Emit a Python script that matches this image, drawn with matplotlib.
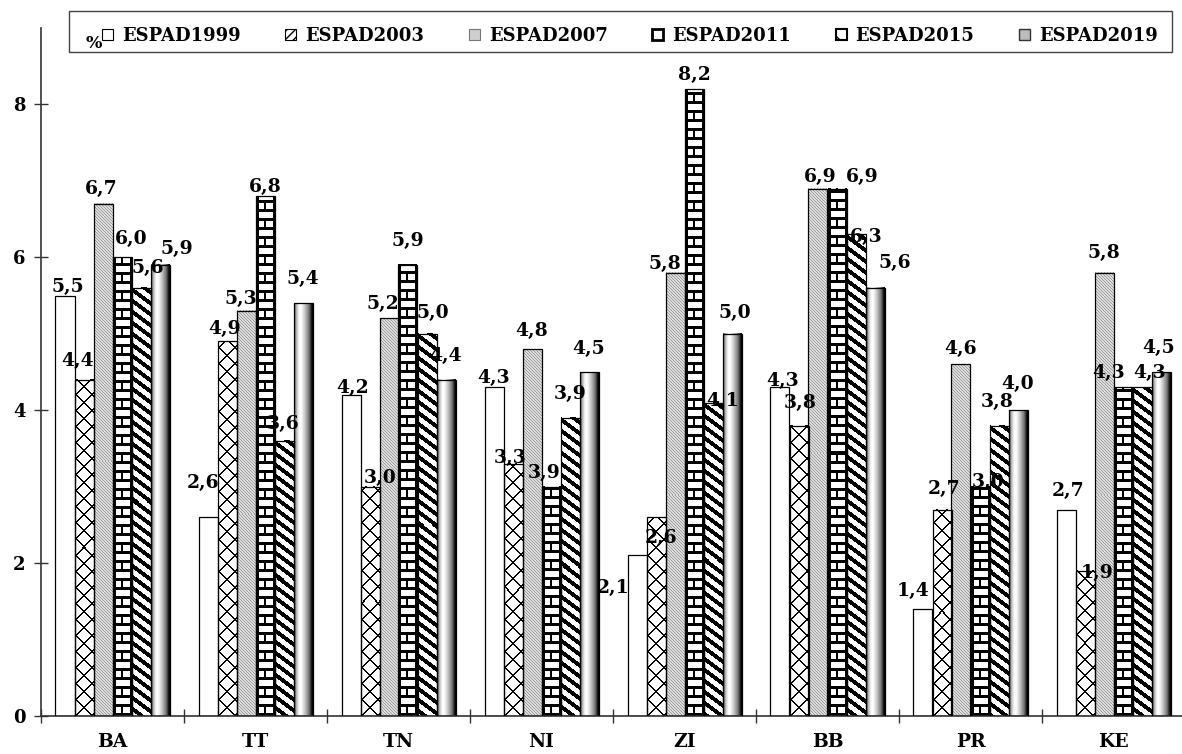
import numpy as np
import matplotlib
matplotlib.use('Agg')
import matplotlib.pyplot as plt
import matplotlib.patches as mpatches
from matplotlib.ticker import FixedLocator

# 데이터
categories = ['BA', 'TT', 'TN', 'NI', 'ZI', 'BB', 'PR', 'KE']
series_names = ['ESPAD1999', 'ESPAD2003', 'ESPAD2007', 'ESPAD2011', 'ESPAD2015', 'ESPAD2019']
espad1999 = [5.5, 2.6, 4.2, 4.3, 2.1, 4.3, 1.4, 2.7]
espad2003 = [4.4, 4.9, 3.0, 3.3, 2.6, 3.8, 2.7, 1.9]
espad2007 = [6.7, 5.3, 5.2, 4.8, 5.8, 6.9, 4.6, 5.8]
espad2011 = [6.0, 6.8, 5.9, 3.0, 8.2, 6.9, 3.0, 4.3]
espad2015 = [5.6, 3.6, 5.0, 3.9, 4.1, 6.3, 3.8, 4.3]
espad2019 = [5.9, 5.4, 4.4, 4.5, 5.0, 5.6, 4.0, 4.5]
# 원본 그림에서 막대 높이와 다르게 적힌 레이블
label_text_override = {(3, 3): '3,9'}
y_ticks = [0, 2, 4, 6, 8]

FONT = 'DejaVu Serif'

# 레이블 위치 보정 (픽셀: 가로 이동, 막대 위 간격) - 원본에서 손으로 옮긴 레이블들
label_shift = {
    (0, 0): (3, 0), (0, 1): (-6, 10), (0, 2): (-2, 6), (0, 3): (9, 9), (0, 4): (7, 11), (0, 5): (17, 7),
    (1, 0): (-5, 25), (1, 1): (-2, 3), (1, 2): (-5, 3), (1, 3): (0, 0), (1, 4): (-1, 8), (1, 5): (0, 15),
    (2, 0): (2, -2), (2, 1): (10, 0), (2, 2): (-6, 6), (2, 3): (0, 15), (2, 4): (6, 12), (2, 5): (0, 15),
    (3, 0): (0, 0), (3, 1): (-3, -3), (3, 2): (0, 9), (3, 3): (-7, 5), (3, 4): (0, 15), (3, 5): (0, 14),
    (4, 0): (-24, -42), (4, 1): (5, -30), (4, 2): (-10, 0), (4, 3): (0, 5), (4, 4): (10, -7), (4, 5): (3, 12),
    (5, 0): (3, -3), (5, 1): (1, 14), (5, 2): (2, 3), (5, 3): (25, 3), (5, 4): (10, -12), (5, 5): (20, 16),
    (6, 0): (-10, 9), (6, 1): (2, 12), (6, 2): (0, 6), (6, 3): (8, -4), (6, 4): (-2, 15), (6, 5): (0, 17),
    (7, 0): (2, 10), (7, 1): (12, -11), (7, 2): (0, 11), (7, 3): (-14, 5), (7, 4): (8, 5), (7, 5): (-2, 15),
}


def texture(kind, W, H):
    """막대 하나를 채울 무늬 이미지 (0=검정, 1=흰색)"""
    rows = np.arange(H)[:, None]
    cols = np.arange(W)[None, :]
    yb = (H - 1 - rows) + np.zeros_like(cols)
    cc = cols + np.zeros_like(rows)
    img = np.ones((H, W))
    if kind == 1:  # 지그재그 격자
        line = ((cc + yb) % 16 < 2) | ((cc - yb) % 16 < 2)
        img[line] = 0.0
    elif kind == 2:  # 회색 가는 빗금
        img[:] = 0.86
        img[(rows - cc) % 3 == 0] = 0.62
    elif kind == 3:  # 벽돌
        k = yb // 9
        mortar = (yb % 9) < 3
        img[mortar] = 0.0
        img[cc < 3] = 0.0
        img[cc >= W - 2] = 0.0
        joint = (k % 2 == 0) & (cc >= W // 2 - 1) & (cc <= W // 2)
        img[joint] = 0.0
    elif kind == 4:  # 굵은 사선
        stripe = ((rows - 0.75 * cc) % 11) < 5
        img[stripe] = 0.0
    elif kind == 5:  # 원통형 그라데이션
        prof = np.array([0.35, 0.55, 0.7, 0.82, 0.92, 0.98, 1.0, 0.97, 0.92,
                         0.86, 0.8, 0.73, 0.66, 0.58, 0.5, 0.4, 0.25, 0.1, 0.02])
        xs = np.linspace(0, 1, W)
        p = np.interp(xs, np.linspace(0, 1, len(prof)), prof)
        img[:] = p[None, :]
    return img


def main():
    data = [espad1999, espad2003, espad2007, espad2011, espad2015, espad2019]
    n = len(categories)
    x = np.arange(n)
    w = 19.0 / 143.0

    fig = plt.figure(figsize=(11.82, 7.54), dpi=100)
    ax = fig.add_axes([41 / 1182, 38 / 754, 1144 / 1182, 688 / 754])
    ax.set_xlim(-0.5, n - 0.5)
    ax.set_ylim(0, 9)

    for k, vals in enumerate(data):
        bars = ax.bar(x + (k - 2.5) * w, vals, width=w, facecolor='none',
                      edgecolor='black', linewidth=0.9, zorder=3)
        for i, patch in enumerate(bars):
            x0 = patch.get_x()
            x1 = x0 + patch.get_width()
            h = patch.get_height()
            (px0, py0), (px1, py1) = ax.transData.transform([(x0, 0), (x1, h)])
            W = max(1, int(round(px1 - px0)))
            H = max(1, int(round(py1 - py0)))
            if k > 0:
                ax.imshow(texture(k, W, H), cmap='gray', vmin=0, vmax=1,
                          extent=[x0, x1, 0, h], aspect='auto',
                          interpolation='nearest', zorder=2)
            txt = label_text_override.get((i, k), f'{vals[i]:.1f}'.replace('.', ','))
            dx, gap = label_shift.get((i, k), (0, 8))
            ax.annotate(txt, (x0 + w / 2, h), xytext=(dx * 0.72, gap * 0.72),
                        textcoords='offset points', ha='center', va='bottom',
                        fontsize=13.5, fontweight='bold', family=FONT, zorder=5)

    ax.set_xlim(-0.5, n - 0.5)
    ax.set_ylim(0, 9)

    for s in ['top', 'right']:
        ax.spines[s].set_visible(False)
    for s in ['left', 'bottom']:
        ax.spines[s].set_color('#333333')
        ax.spines[s].set_linewidth(1.2)

    ax.set_yticks(y_ticks)
    ax.set_yticklabels([str(t) for t in y_ticks], fontsize=13,
                       fontweight='bold', family=FONT)
    ax.tick_params(axis='y', direction='inout', length=10, width=1.0,
                   color='#333333', pad=6)

    ax.set_xticks(x)
    ax.set_xticklabels(categories, fontsize=13.5, fontweight='bold', family=FONT)
    ax.tick_params(axis='x', which='major', length=0, pad=12)
    ax.xaxis.set_minor_locator(FixedLocator(np.arange(n + 1) - 0.5))
    ax.tick_params(axis='x', which='minor', direction='inout', length=10,
                   width=1.0, color='#333333')

    # 범례
    handles = [
        mpatches.Patch(facecolor='white', edgecolor='black', linewidth=0.8),
        mpatches.Patch(facecolor='white', edgecolor='black', linewidth=0.8, hatch='////'),
        mpatches.Patch(facecolor='#cfcfcf', edgecolor='#777777', linewidth=0.8),
        mpatches.Patch(facecolor='white', edgecolor='black', linewidth=2.0),
        mpatches.Patch(facecolor='white', edgecolor='black', linewidth=1.5, hatch='\\\\'),
        mpatches.Patch(facecolor='#bbbbbb', edgecolor='#333333', linewidth=1.0),
    ]
    fig.legend(handles, series_names, loc='lower left', ncol=6, mode='expand',
               bbox_to_anchor=(95 / 1182, 1 - 52 / 754, 1070 / 1182, 41 / 754),
               prop={'family': FONT, 'weight': 'bold', 'size': 13},
               handlelength=0.6, handleheight=0.6, handletextpad=0.5,
               borderaxespad=0, fancybox=False, frameon=False)
    # 범례 테두리 (원본은 % 기호까지 감싸는 상자)
    fig.patches.append(mpatches.Rectangle((69 / 1182, 1 - 52 / 754), 1103 / 1182, 41 / 754,
                                          transform=fig.transFigure, fill=False,
                                          edgecolor='#444444', linewidth=1.0))
    fig.text(94 / 1182, 1 - 44 / 754, '%', fontsize=12.5, fontweight='bold',
             family=FONT, ha='center', va='center')

    fig.savefig('out.png', dpi=100)


if __name__ == '__main__':
    main()
